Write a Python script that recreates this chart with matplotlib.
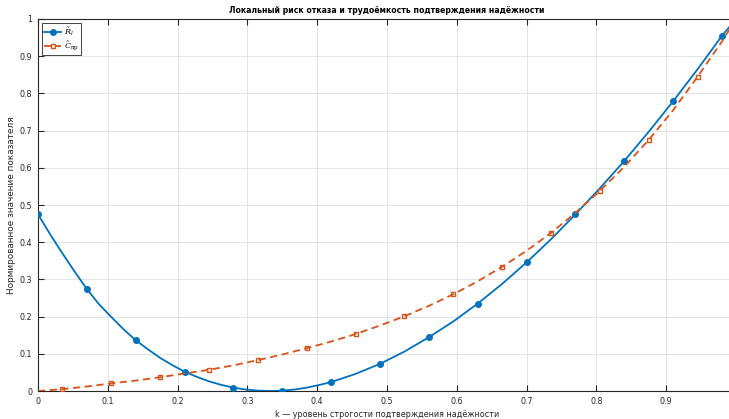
import numpy as np
import matplotlib.pyplot as plt

# values
k_risk = [0.0, 0.0175, 0.035, 0.0525, 0.07, 0.0875, 0.105, 0.1225, 0.14, 0.1575,
          0.175, 0.1925, 0.21, 0.2275, 0.245, 0.2625, 0.28, 0.2975, 0.315, 0.3325,
          0.35, 0.3675, 0.385, 0.4025, 0.42, 0.455, 0.49, 0.525, 0.56, 0.595,
          0.63, 0.665, 0.70, 0.735, 0.77, 0.805, 0.84, 0.875, 0.91, 0.945,
          0.98, 1.0]
risk = [0.475, 0.421, 0.370, 0.321, 0.274, 0.233, 0.199, 0.166, 0.1365, 0.112,
        0.089, 0.0695, 0.052, 0.038, 0.026, 0.0165, 0.009, 0.004, 0.001, 0.0,
        0.001, 0.004, 0.009, 0.016, 0.024, 0.046, 0.073, 0.106, 0.1446, 0.187,
        0.235, 0.288, 0.3457, 0.408, 0.475, 0.545, 0.6185, 0.697, 0.779, 0.865,
        0.955, 1.0]

k_cost = [0.0, 0.035, 0.07, 0.105, 0.14, 0.175, 0.21, 0.245, 0.28, 0.315,
          0.35, 0.385, 0.42, 0.455, 0.49, 0.525, 0.56, 0.595, 0.63, 0.665,
          0.70, 0.735, 0.77, 0.805, 0.84, 0.875, 0.91, 0.945, 0.98, 1.0]
cost = [0.0, 0.005, 0.012, 0.0205, 0.028, 0.037, 0.047, 0.057, 0.069, 0.083,
        0.098, 0.115, 0.133, 0.153, 0.176, 0.201, 0.229, 0.260, 0.295, 0.334,
        0.377, 0.425, 0.479, 0.538, 0.603, 0.675, 0.755, 0.845, 0.940, 1.0]

# marker positions (every 0.07 for risk, shifted by 0.035 for cost)
risk_marks = [0, 4, 8, 12, 16, 20, 24, 26, 28, 30, 32, 34, 36, 38, 40]
cost_marks = list(range(1, 28, 2))

xticks = [0, 0.1, 0.2, 0.3, 0.4, 0.5, 0.6, 0.7, 0.8, 0.9, 1.0]
xlabels = ['0', '0.1', '0.2', '0.3', '0.4', '0.5', '0.6', '0.7', '0.8', '0.9', '']
yticks = [0, 0.1, 0.2, 0.3, 0.4, 0.5, 0.6, 0.7, 0.8, 0.9, 1.0]
ylabels = ['0', '0.1', '0.2', '0.3', '0.4', '0.5', '0.6', '0.7', '0.8', '0.9', '1']

plt.rcParams['font.family'] = ['DejaVu Sans']
plt.rcParams['mathtext.fontset'] = 'dejavuserif'

blue = '#0072BD'
orange = '#D95319'
txt = '#262626'

fig = plt.figure(figsize=(7.29, 4.19), dpi=100)
ax = fig.add_axes([38 / 729, 28 / 419, 698 / 729, 372 / 419])

ax.plot(k_risk, risk, color=blue, lw=1.3, marker='o', ms=4,
        markevery=risk_marks, label=r'$\tilde{R}_l$', zorder=3)
ax.plot(k_cost, cost, color=orange, lw=1.3, ls=(0, (4, 2.5)), marker='s', ms=3.2,
        mfc='none', mew=1.0, markevery=cost_marks,
        label=r'$\tilde{C}_{\mathrm{пр}}$', zorder=3)

ax.set_xlim(0, 1)
ax.set_ylim(0, 1)
ax.set_xticks(xticks)
ax.set_yticks(yticks)
ax.set_xticklabels(xlabels)
ax.set_yticklabels(ylabels)
ax.tick_params(direction='in', length=4, width=0.8, labelsize=5.8,
               colors=txt, top=True, right=True, pad=4)
ax.grid(True, color='#e3e3e3', lw=0.7)
ax.set_axisbelow(True)
for s in ax.spines.values():
    s.set_color('#262626')
    s.set_linewidth(0.8)

ax.set_title('Локальный риск отказа и трудоёмкость подтверждения надёжности',
             fontsize=5.6, fontweight='bold', color='black', pad=4)
ax.set_xlabel('k — уровень строгости подтверждения надёжности', fontsize=5.8, color=txt, labelpad=3)
ax.set_ylabel('Нормированное значение показателя', fontsize=6.4, color=txt, labelpad=3)

leg = ax.legend(loc='upper left', fontsize=5.8, handlelength=2.0, fancybox=False,
                edgecolor='#262626', framealpha=1, borderpad=0.3, labelspacing=0.15,
                handletextpad=0.4, borderaxespad=0.5)
leg.get_frame().set_linewidth(0.6)

fig.savefig('out.png', dpi=100)
